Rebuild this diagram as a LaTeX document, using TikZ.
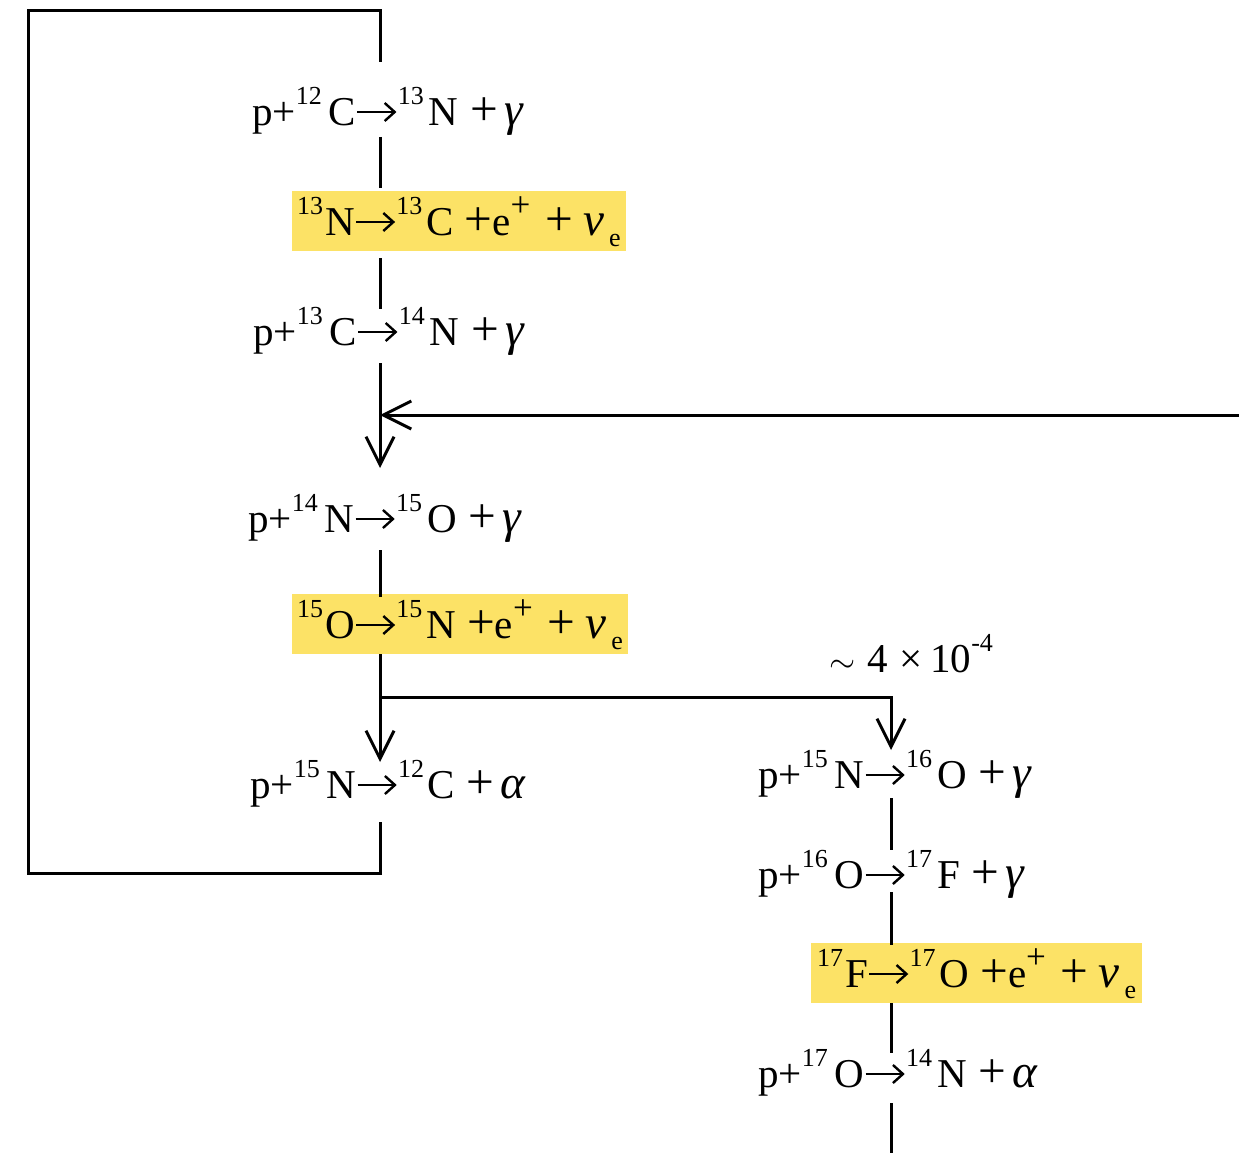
\documentclass[tikz,border=0pt]{standalone}
\usepackage{graphicx}
\usepackage{fontspec}
\setmainfont{Liberation Serif}
\usetikzlibrary{arrows.meta,calc}
\definecolor{hl}{RGB}{252,226,102}
\newcommand\sps[1]{\raisebox{0.49em}{\fontsize{26}{26}\selectfont #1}}
\newcommand\sbs[1]{\raisebox{-0.29em}{\fontsize{26}{26}\selectfont #1}}
\newcommand\arw{\tikz[baseline=0pt]{\path (0pt,0pt) rectangle (41pt,1pt);\draw[line width=2.6pt,line cap=butt,-{Straight Barb[length=10pt,width=18pt,line width=2.4pt]}] (1pt,13pt) -- (40pt,13pt);}}
\newcommand\bp{\scalebox{1.2}{+}}
\newcommand\gk[1]{\scalebox{1.15}{\textit{#1}}}
\newcommand\pl{\hspace{12pt}\bp\hspace{6pt}}
\newcommand\nue{\gk{ν}\hspace{5pt}\sbs{e}}
\newcommand\posi{\hspace{11pt}\bp e\raisebox{-2pt}{\sps{\scalebox{1.35}{+}}}\hspace{15pt}\bp\hspace{10pt}\nue}
\begin{document}
\begin{tikzpicture}[x=1pt,y=-1pt,line width=3pt,
  rx/.style={anchor=base west,inner sep=0pt,font=\fontsize{41}{49}\selectfont},
  hbox/.style={rx,fill=hl,inner xsep=5pt,inner ysep=0pt,text height=44pt,text depth=16pt},
  tip/.style={-{Straight Barb[length=28pt,width=28pt]}}]
\useasboundingbox (0,0) rectangle (1239,1153);
\coordinate (s) at (380,0);
\coordinate (t) at (891,0);
\coordinate (ltop) at (28,11);
\coordinate (lbot) at (28,873);
\coordinate (rin) at (1239,415);
\coordinate (bot) at (0,1153);
% left column
\node[rx] (r1) at (252,125) {p+\sps{12}\hspace{7pt}C\arw\sps{13}\hspace{5pt}N\pl\gk{γ}};
\node[hbox] (b1) at (292,235) {\sps{13}\hspace{2pt}N\arw\sps{13}\hspace{4pt}C\posi};
\node[rx] (r3) at (253,345) {p+\sps{13}\hspace{7pt}C\arw\sps{14}\hspace{5pt}N\pl\gk{γ}};
\node[rx] (r4) at (248,532) {p+\sps{14}\hspace{7pt}N\arw\sps{15}\hspace{5pt}O\pl\gk{γ}};
\node[hbox] (b2) at (292,638) {\sps{15}\hspace{2pt}O\arw\sps{15}\hspace{4pt}N\posi};
\node[rx] (r5) at (250,798) {p+\sps{15}\hspace{7pt}N\arw\sps{12}\hspace{3pt}C\pl\gk{α}};
% right column
\node[rx] (lab) at (828,672) {\scalebox{1.35}{$\sim$}\hspace{12pt}4\hspace{11pt}×\hspace{8pt}10\sps{-4}};
\node[rx] (q1) at (758,788) {p+\sps{15}\hspace{7pt}N\arw\sps{16}\hspace{5pt}O\pl\gk{γ}};
\node[rx] (q2) at (758,888) {p+\sps{16}\hspace{7pt}O\arw\sps{17}\hspace{5pt}F\pl\gk{γ}};
\node[hbox,inner xsep=6pt] (b3) at (811,987) {\sps{17}\hspace{2pt}F\arw\sps{17}\hspace{4pt}O\posi};
\node[rx] (q4) at (758,1087) {p+\sps{17}\hspace{7pt}O\arw\sps{14}\hspace{5pt}N\pl\gk{α}};
% connectors
\draw ($(r1.base -| s)+(0,-63)$) -- (s |- ltop) -- (ltop) -- (lbot) -- (lbot -| s) -- ($(r5.base -| s)+(0,24)$);
\draw ($(r1.base -| s)+(0,12)$) -- ($(b1.north -| s)+(0,-3)$);
\draw ($(b1.south -| s)+(0,7)$) -- ($(r3.base -| s)+(0,-36)$);
\draw[tip] ($(r3.base -| s)+(0,18)$) -- ($(r4.base -| s)+(0,-64)$);
\draw[tip] (rin) -- (rin -| s);
\draw ($(r4.base -| s)+(0,18)$) -- ($(b2.north -| s)+(0,3)$);
\draw[tip] (b2.south -| s) -- ($(r5.base -| s)+(0,-36)$);
\draw[tip] ($(b2.south -| s)+(0,43)$) -| ($(q1.base -| t)+(0,-38)$);
\draw ($(q1.base -| t)+(0,10)$) -- ($(q2.base -| t)+(0,-38)$);
\draw ($(q2.base -| t)+(0,4)$) -- ($(b3.north -| t)+(0,2)$);
\draw (b3.south -| t) -- ($(q4.base -| t)+(0,-34)$);
\draw ($(q4.base -| t)+(0,16)$) -- (t |- bot);
\end{tikzpicture}
\end{document}
